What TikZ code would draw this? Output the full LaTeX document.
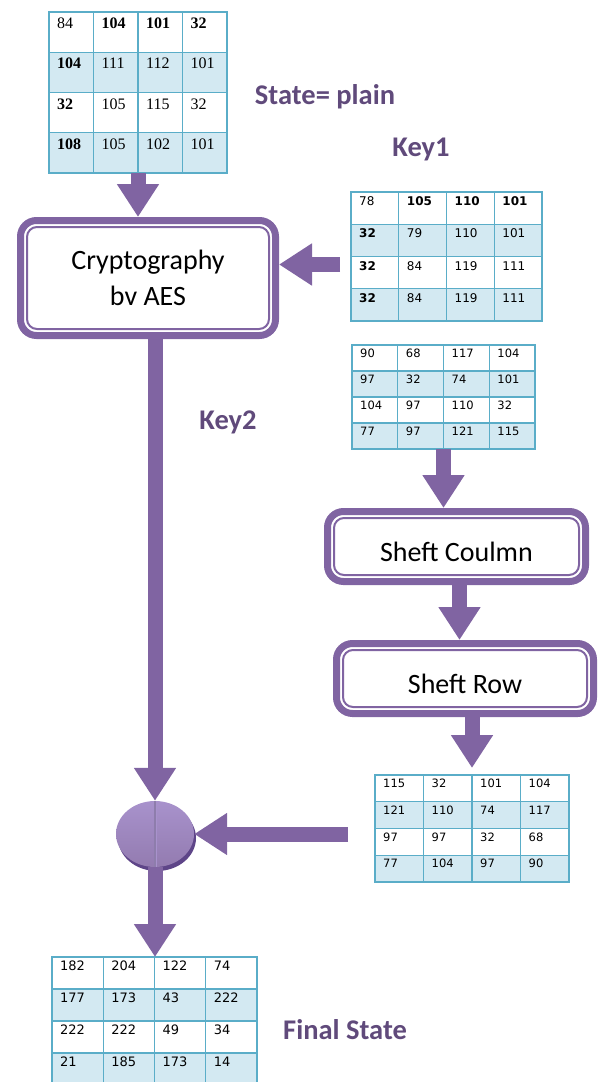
\documentclass[tikz,border=0pt]{standalone}
\usepackage{fontspec}
\setmainfont{Carlito}
\newfontfamily\cellsans{DejaVu Sans}
\newfontfamily\cellserif{Liberation Serif}
\usepackage{tikz}
\usetikzlibrary{positioning, arrows.meta, shapes.geometric}

\definecolor{flowpurple}{HTML}{8064A2}
\definecolor{labelpurple}{HTML}{604A7B}
\definecolor{gridteal}{HTML}{5AADC8}
\definecolor{gridblue}{HTML}{D3E9F2}
\definecolor{discdark}{HTML}{5E4588}
\definecolor{disclight}{HTML}{A892CC}

\tikzset{
    bigarrow/.style={draw=flowpurple, line width=15pt,
        -{Triangle[width=40pt,length=33pt]}},
    stepbox/.style={draw=flowpurple, line width=7pt, rounded corners=16pt,
        fill=white, align=center, font=\fontsize{28}{36}\selectfont,
        path picture={\draw[flowpurple, line width=2pt, rounded corners=10pt]
            ([shift={(6.5pt,-6.5pt)}]path picture bounding box.north west) rectangle
            ([shift={(-6.5pt,6.5pt)}]path picture bounding box.south east);}},
    steplabel/.style={text=labelpurple, font=\bfseries\fontsize{28.5}{34}\selectfont},
    gridframe/.style={draw=gridteal, line width=1.6pt, inner sep=0pt, outer sep=0pt},
    gridline/.style={draw=gridteal, line width=1.2pt},
    celltext/.style={anchor=base west, inner sep=0pt},
}

% #1 name, #2 left, #3 top, #4 cell width, #5 cell height,
% #6 font, #7 baseline, #8 the 16 values
\newcommand{\numgrid}[8]{%
    \fill[gridblue] (#2,#3+#5) rectangle (#2+4*#4,#3+2*#5);
    \fill[gridblue] (#2,#3+3*#5) rectangle (#2+4*#4,#3+4*#5);
    \foreach \i in {1,2,3} {
        \draw[gridline] (#2+\i*#4,#3) -- ++(0,4*#5);
        \draw[gridline] (#2,#3+\i*#5) -- ++(4*#4,0);
    }
    \node[gridframe, anchor=north west,
        minimum width={4*#4pt}, minimum height={4*#5pt}] (#1) at (#2,#3) {};
    \foreach \v [count=\k from 0] in {#8} {
        \pgfmathtruncatemacro\gridrow{\k/4}
        \pgfmathtruncatemacro\gridcol{mod(\k,4)}
        \node[celltext, font={#6}] (#1-\k)
            at (#2+\gridcol*#4+8, #3+\gridrow*#5+#7) {\v};
    }
}

\begin{document}
\begin{tikzpicture}[x=1pt, y=-1pt]
        \useasboundingbox (0,0) rectangle (598,1082);

        % state matrices
        \numgrid{m1}{49}{12}{44.5}{40.25}{\cellserif\fontsize{16}{18}\selectfont}{16.5}
            {84,\textbf{104},\textbf{101},\textbf{32},\textbf{104},111,112,101,
             \textbf{32},105,115,32,\textbf{108},105,102,101}
        \numgrid{m2}{351}{192}{47.75}{32.25}{\cellsans\fontsize{12}{14}\selectfont}{13.5}
            {78,\textbf{105},\textbf{110},\textbf{101},\textbf{32},79,110,101,
             \textbf{32},84,119,111,\textbf{32},84,119,111}
        \numgrid{m3}{352}{345}{45.75}{26}{\cellsans\fontsize{11.5}{13}\selectfont}{12.5}
            {90,68,117,104,97,32,74,101,104,97,110,32,77,97,121,115}
        \numgrid{m4}{375}{775}{48.5}{26.75}{\cellsans\fontsize{11.5}{13}\selectfont}{12.5}
            {115,32,101,104,121,110,74,117,97,97,32,68,77,104,97,90}
        \numgrid{m5}{52}{957}{51.25}{32}{\cellsans\fontsize{13}{15}\selectfont}{13.5}
            {182,204,122,74,177,173,43,222,222,222,49,34,21,185,173,14}

        % labels
        \node[steplabel] (plainlbl) at (325,97) {State= plain};
        \node[steplabel] (key1lbl) at (421,149) {Key1};
        \node[steplabel] (key2lbl) at (228,422) {Key2};
        \node[steplabel] (finallbl) at (345,1030) {Final State};

        % steps
        \node[stepbox, minimum width=255pt, minimum height=115pt]
            (crypto) at (148,278) {Cryptography\\bv AES};
        \node[stepbox, minimum width=258pt, minimum height=70pt,
            text height=29pt, text depth=0pt]
            (scol) at (456.5,546.5) {Sheft Coulmn};
        \node[stepbox, minimum width=257pt, minimum height=70pt,
            text height=29pt, text depth=0pt]
            (srow) at (465,678.5) {Sheft Row};

        % xor disc
        \node[ellipse, fill=discdark, inner sep=0pt,
            minimum width=78pt, minimum height=66pt] (xshadow) at (157,838) {};
        \node[ellipse, inner sep=0pt, minimum width=78pt, minimum height=66pt,
            top color=disclight, middle color=flowpurple, bottom color=flowpurple!85!white]
            (xorop) at (155,834) {};
        \draw[discdark!70, line width=1.6pt] (xorop.north) -- (xorop.south);
        \draw[disclight, line width=0.8pt] ([xshift=1.5pt]xorop.north) -- ([xshift=1.5pt]xorop.south);

        % arrows
        \draw[bigarrow] (m1.south) -- (m1.south |- crypto.north);
        \draw[bigarrow] ([shift={(-11pt,-8pt)}]m2.west) coordinate (keyin)
            -- (keyin -| crypto.east);
        \draw[bigarrow] (xorop.north |- crypto.south) -- (xorop.north);
        \draw[bigarrow] ([xshift=-27pt]m4.west |- xorop.east) -- (xorop.east);
        \draw[bigarrow] (xorop.south) -- (xorop.south |- m5.north);
        \draw[bigarrow] (m3.south) -- (m3.south |- scol.north);
        \draw[bigarrow] ([xshift=3pt]scol.south) -- ([xshift=3pt]scol.south |- srow.north);
        \draw[bigarrow, shorten >=7pt] (m4.north |- srow.south) -- (m4.north);
\end{tikzpicture}
\end{document}
